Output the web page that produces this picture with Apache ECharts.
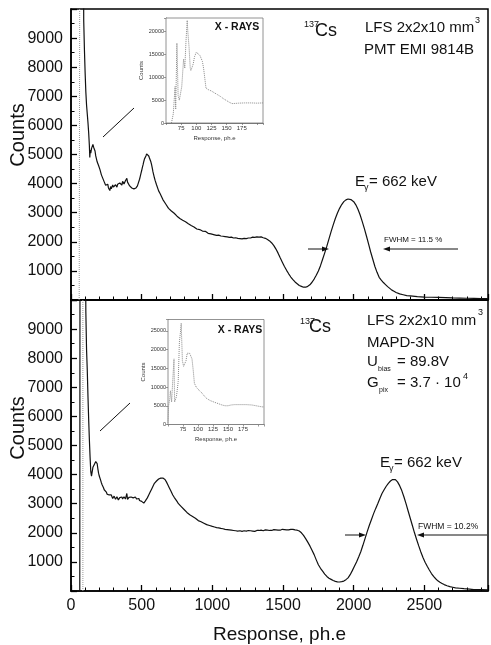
<!DOCTYPE html>
<html>
<head>
<meta charset="utf-8">
<script src="https://cdn.jsdelivr.net/npm/echarts@6/dist/echarts.min.js"></script>
<style>
html,body{margin:0;padding:0;background:#fff;}
#c{width:491px;height:645px;}
</style>
</head>
<body>
<div id="c"></div>
<script>
// ---- Data ----
// Top panel: PMT EMI 9814B spectrum [response ph.e, counts]
var pmtSpectrum = [[88,12000],[90,9600],[92,9200],[95,8600],[100,7800],[105,7150],[110,6700],[115,6400],[120,6100],[125,5750],[130,5300],[133,4900],[136,5150],[140,5050],[145,5200],[150,5150],[155,5350],[160,5250],[165,5300],[170,5120],[175,4950],[180,4920],[185,4750],[190,4800],[195,4620],[200,4560],[205,4480],[210,4450],[215,4300],[220,4250],[225,4180],[230,4150],[235,4060],[240,4050],[245,3940],[250,3980],[255,3900],[260,3980],[265,3850],[270,3880],[275,3760],[280,3900],[285,3820],[290,3800],[295,3950],[300,3880],[305,3820],[310,3900],[315,3960],[320,3900],[325,3880],[330,3980],[335,3920],[340,3950],[345,4020],[350,3960],[355,4000],[360,3950],[365,4080],[370,4050],[375,3990],[380,4020],[385,4100],[390,4060],[395,4180],[400,4050],[405,4000],[410,3990],[415,3920],[420,3950],[425,3860],[430,3850],[435,3900],[440,3800],[445,3820],[450,3790],[455,3840],[460,3850],[465,3890],[470,3920],[475,4000],[480,4060],[485,4150],[490,4250],[495,4350],[500,4450],[505,4560],[510,4650],[515,4760],[520,4850],[525,4900],[530,4950],[535,5020],[540,4990],[545,4960],[550,4950],[555,4880],[560,4850],[565,4750],[570,4650],[575,4530],[580,4400],[585,4300],[590,4200],[595,4110],[600,4050],[605,3960],[610,3900],[620,3750],[630,3660],[640,3560],[650,3450],[660,3420],[670,3300],[680,3260],[690,3150],[700,3120],[710,3060],[720,3000],[730,2980],[740,2920],[750,2880],[760,2860],[770,2800],[780,2780],[790,2740],[800,2700],[810,2690],[820,2650],[830,2620],[840,2600],[850,2560],[860,2520],[870,2510],[880,2480],[890,2440],[900,2430],[910,2420],[920,2400],[930,2370],[940,2350],[950,2360],[960,2330],[970,2290],[980,2290],[990,2270],[1000,2250],[1015,2240],[1030,2220],[1045,2230],[1060,2200],[1075,2190],[1090,2180],[1105,2170],[1120,2150],[1135,2160],[1150,2130],[1165,2140],[1180,2120],[1195,2110],[1210,2100],[1225,2120],[1240,2110],[1255,2130],[1270,2130],[1285,2160],[1300,2150],[1315,2170],[1330,2160],[1345,2170],[1360,2140],[1375,2120],[1390,2080],[1405,2030],[1420,1960],[1435,1870],[1450,1750],[1465,1610],[1480,1450],[1495,1300],[1510,1150],[1525,1020],[1540,900],[1555,790],[1570,700],[1585,620],[1600,560],[1615,500],[1630,470],[1645,440],[1660,440],[1675,470],[1690,520],[1705,610],[1720,720],[1735,850],[1750,1000],[1765,1180],[1780,1400],[1795,1620],[1810,1850],[1825,2100],[1840,2350],[1855,2580],[1870,2800],[1885,2990],[1900,3150],[1915,3280],[1930,3380],[1945,3440],[1960,3470],[1970,3480],[1980,3450],[1990,3420],[2000,3380],[2015,3270],[2030,3120],[2045,2930],[2060,2700],[2075,2460],[2090,2200],[2105,1930],[2120,1650],[2135,1400],[2150,1150],[2165,950],[2180,780],[2195,680],[2210,600],[2225,530],[2240,460],[2255,400],[2270,340],[2285,300],[2300,260],[2325,210],[2350,180],[2375,150],[2400,140],[2450,115],[2500,100],[2550,95],[2600,90],[2650,80],[2700,70],[2750,65],[2800,60],[2850,55],[2900,50],[2950,50]];
// Top panel: steep low-channel edge (grey dotted)
var pmtEdge = [[58,0],[62,12000]];

// Bottom panel: MAPD-3N spectrum [response ph.e, counts]
var mapdSpectrum = [[62,0],[64,14000],[100,14000],[105,9600],[110,8300],[115,7600],[120,6700],[125,5900],[130,5200],[135,4600],[140,4100],[145,3950],[150,3920],[155,4250],[160,4200],[165,4350],[170,4300],[175,4450],[180,4400],[185,4380],[190,4200],[195,4050],[200,3950],[205,3900],[210,3800],[215,3720],[220,3650],[225,3600],[230,3550],[235,3480],[240,3450],[245,3420],[250,3400],[255,3330],[260,3350],[265,3290],[270,3300],[275,3240],[280,3250],[285,3300],[290,3280],[295,3180],[300,3200],[305,3260],[310,3250],[315,3150],[320,3180],[325,3240],[330,3220],[335,3130],[340,3150],[345,3210],[350,3200],[355,3170],[360,3230],[365,3160],[370,3180],[375,3240],[380,3250],[385,3160],[390,3200],[395,3350],[400,3150],[405,3190],[410,3220],[415,3170],[420,3180],[425,3230],[430,3250],[435,3170],[440,3200],[445,3150],[450,3180],[455,3230],[460,3220],[465,3160],[470,3150],[475,3200],[480,3180],[485,3110],[490,3120],[495,3090],[500,3080],[505,3040],[510,3050],[515,3020],[520,3070],[525,3090],[530,3120],[535,3150],[540,3200],[545,3250],[550,3300],[555,3350],[560,3400],[565,3450],[570,3500],[575,3560],[580,3600],[585,3650],[590,3700],[595,3720],[600,3750],[605,3780],[610,3800],[615,3830],[620,3850],[625,3860],[630,3870],[635,3880],[640,3900],[645,3920],[650,3880],[655,3870],[660,3850],[665,3830],[670,3800],[675,3750],[680,3700],[685,3650],[690,3600],[695,3550],[700,3500],[705,3450],[710,3400],[720,3300],[730,3220],[740,3150],[750,3080],[760,3000],[770,2950],[780,2900],[790,2850],[800,2800],[810,2750],[820,2700],[830,2670],[840,2620],[850,2590],[860,2560],[870,2530],[880,2500],[890,2460],[900,2420],[910,2400],[920,2380],[930,2350],[940,2330],[950,2300],[960,2280],[970,2270],[980,2250],[990,2240],[1000,2220],[1015,2200],[1030,2180],[1045,2170],[1060,2150],[1075,2140],[1090,2120],[1105,2110],[1120,2100],[1135,2090],[1150,2080],[1165,2070],[1180,2060],[1195,2070],[1210,2050],[1225,2070],[1240,2060],[1255,2080],[1270,2070],[1285,2060],[1300,2050],[1315,2080],[1330,2080],[1345,2090],[1360,2070],[1375,2100],[1390,2090],[1405,2080],[1420,2080],[1435,2110],[1450,2100],[1465,2090],[1480,2090],[1495,2120],[1510,2110],[1525,2100],[1540,2100],[1555,2120],[1570,2120],[1585,2100],[1600,2090],[1615,2060],[1630,2000],[1645,1910],[1660,1800],[1675,1680],[1690,1550],[1705,1400],[1720,1250],[1735,1070],[1750,900],[1765,780],[1780,680],[1795,580],[1810,500],[1825,440],[1840,400],[1855,360],[1870,330],[1885,315],[1900,310],[1915,320],[1930,340],[1945,390],[1960,450],[1975,560],[1990,700],[2005,850],[2020,1000],[2035,1170],[2050,1350],[2065,1570],[2080,1800],[2095,2030],[2110,2250],[2125,2450],[2140,2650],[2155,2830],[2170,3000],[2185,3180],[2200,3350],[2215,3480],[2230,3600],[2245,3700],[2260,3780],[2275,3830],[2285,3850],[2295,3830],[2310,3750],[2325,3620],[2340,3450],[2355,3240],[2370,3000],[2385,2750],[2400,2500],[2415,2250],[2430,2000],[2445,1770],[2460,1550],[2475,1340],[2490,1150],[2505,990],[2520,850],[2535,720],[2550,600],[2565,500],[2580,420],[2595,350],[2610,300],[2625,260],[2640,220],[2660,180],[2680,150],[2700,130],[2720,110],[2750,95],[2780,80],[2820,65],[2850,50],[2900,45],[2950,40]];
// Bottom panel: grey dotted low-channel line
var mapdEdge = [[84,0],[84,12000]];

// Insets: X-ray region [response ph.e, counts]
var pmtXray = [[59,0],[62,2000],[63,4000],[65,8000],[66,3000],[68,17500],[70,6000],[72,5000],[74,6500],[76,8000],[78,12000],[79,14000],[81,12000],[83,18000],[85,22500],[86,20000],[88,16700],[90,12000],[91,11500],[93,12200],[95,13000],[97,14500],[100,15500],[103,15200],[106,14800],[110,13500],[112,12000],[114,9800],[116,7600],[120,7300],[125,7000],[130,6600],[135,6200],[140,5800],[145,5300],[150,4900],[155,4500],[159,4250],[165,4300],[170,4350],[180,4400],[190,4400],[200,4350],[210,4400]];
var mapdXray = [[50,500],[51,5000],[53,7000],[54,9000],[56,6000],[58,12000],[60,17500],[61,6000],[63,6500],[64,7400],[66,10000],[67,11500],[69,22000],[71,25000],[72,27000],[73,22000],[74,17000],[76,15500],[78,15000],[80,17000],[82,19000],[84,19200],[86,19000],[88,18500],[90,17500],[92,14500],[94,11000],[97,10000],[100,9400],[103,9000],[106,8500],[110,7700],[114,7000],[120,6400],[128,5900],[135,5500],[140,5200],[145,5000],[150,5000],[155,5200],[161,5300],[170,5300],[180,5300],[190,5200],[200,4900],[207,4700],[210,4700]];

// Axis settings
var mainXMin = 0, mainXMax = 2950, mainXStep = 500;
var mainYMin = 0, mainYMax = 10000, mainYStep = 1000;
var insetXMin = 50, insetXMax = 210, insetXStep = 25;
var insetYStep = 5000, pmtInsetYMax = 23000, mapdInsetYMax = 28000;

// ---- Chart ----
var FONT = '"Liberation Sans", Arial, sans-serif';
var chart = echarts.init(document.getElementById('c'), null, {renderer: 'canvas'});

function mainX(gi, showLabels) {
  return {
    gridIndex: gi, type: 'value', min: mainXMin, max: mainXMax, interval: mainXStep,
    axisLine: {show: true, lineStyle: {color: '#000', width: 1.5}},
    axisTick: {show: true, inside: true, length: 6, lineStyle: {color: '#000', width: 1.3}},
    minorTick: {show: true, splitNumber: 5, length: 3.5, lineStyle: {color: '#000', width: 1}},
    splitLine: {show: false}, minorSplitLine: {show: false},
    axisLabel: {show: showLabels, fontSize: 16, color: '#111', fontFamily: FONT, margin: 7,
      showMinLabel: true, showMaxLabel: false,
      formatter: function (v) { return v > 2500 ? '' : String(v); }},
    name: showLabels ? 'Response, ph.e' : '', nameLocation: 'middle', nameGap: 34,
    nameTextStyle: {fontSize: 19, color: '#111', fontFamily: FONT}
  };
}
function mainY(gi) {
  return {
    gridIndex: gi, type: 'value', min: mainYMin, max: mainYMax, interval: mainYStep,
    axisLine: {show: true, lineStyle: {color: '#000', width: 1.5}},
    axisTick: {show: true, inside: true, length: 6, lineStyle: {color: '#000', width: 1.3}},
    minorTick: {show: true, splitNumber: 2, length: 3.5, lineStyle: {color: '#000', width: 1}},
    splitLine: {show: false},
    axisLabel: {fontSize: 16, color: '#111', fontFamily: FONT, margin: 8,
      formatter: function (v) { return (v <= 0 || v >= 10000) ? '' : String(v); }}
  };
}
function insetX(gi) {
  return {
    gridIndex: gi, type: 'value', min: insetXMin, max: insetXMax, interval: insetXStep,
    axisLine: {show: true, lineStyle: {color: '#555', width: 0.8}},
    axisTick: {show: true, length: 2, lineStyle: {color: '#555', width: 0.6}},
    splitLine: {show: false},
    axisLabel: {fontSize: 6, color: '#333', fontFamily: FONT, margin: 2,
      formatter: function (v) { return (v >= 75 && v <= 175) ? String(v) : ''; }},
    name: 'Response, ph.e', nameLocation: 'middle', nameGap: 12,
    nameTextStyle: {fontSize: 6, color: '#333', fontFamily: FONT}
  };
}
function insetY(gi, maxV, maxLab) {
  return {
    gridIndex: gi, type: 'value', min: 0, max: maxV, interval: insetYStep,
    axisLine: {show: true, lineStyle: {color: '#555', width: 0.8}},
    axisTick: {show: true, length: 2, lineStyle: {color: '#555', width: 0.6}},
    splitLine: {show: false},
    axisLabel: {fontSize: 5.5, color: '#333', fontFamily: FONT, margin: 2,
      formatter: function (v) { return v > maxLab ? '' : String(v); }},
    name: 'Counts', nameLocation: 'middle', nameGap: 19, nameRotate: 90,
    nameTextStyle: {fontSize: 6, color: '#333', fontFamily: FONT}
  };
}

var T = function (x, y, text, size, opts) {
  opts = opts || {};
  return {type: 'text', x: x, y: y, z: 100, silent: true,
    style: {text: text, fill: opts.fill || '#111', font: (opts.weight || 'normal') + ' ' + size + 'px ' + FONT,
      align: opts.align || 'left', verticalAlign: opts.va || 'middle'}};
};
var L = function (x1, y1, x2, y2, w) {
  return {type: 'line', z: 100, silent: true, shape: {x1: x1, y1: y1, x2: x2, y2: y2},
    style: {stroke: '#111', lineWidth: w || 1}};
};
var P = function (pts) {
  return {type: 'polygon', z: 100, silent: true, shape: {points: pts}, style: {fill: '#111'}};
};

var graphics = [
  // Counts axis titles
  {type: 'text', x: 18, y: 135, rotation: Math.PI / 2, z: 100, silent: true,
    style: {text: 'Counts', font: '20px ' + FONT, fill: '#111', align: 'center', verticalAlign: 'middle'}},
  {type: 'text', x: 18, y: 428, rotation: Math.PI / 2, z: 100, silent: true,
    style: {text: 'Counts', font: '20px ' + FONT, fill: '#111', align: 'center', verticalAlign: 'middle'}},

  // Top panel texts
  T(304, 25, '137', 9),
  T(315, 31, 'Cs', 18),
  T(365, 28, 'LFS 2x2x10 mm', 15),
  T(475, 21, '3', 9),
  T(364, 50, 'PMT EMI 9814B', 15),
  T(355, 182, 'E', 15),
  T(364, 188, '\u03b3', 9),
  T(369, 182, '= 662 keV', 15),
  T(384, 240, 'FWHM = 11.5 %', 8),
  L(308, 249, 324, 249), P([[329, 249], [322, 246.5], [322, 251.5]]),
  L(458, 249, 388, 249), P([[383, 249], [390, 246.5], [390, 251.5]]),
  L(103, 137, 134, 108),
  T(237, 27, 'X - RAYS', 10.5, {weight: 'bold', align: 'center'}),

  // Bottom panel texts
  T(300, 322, '137', 9),
  T(309, 327, 'Cs', 18),
  T(367, 321, 'LFS 2x2x10 mm', 15),
  T(478, 313, '3', 9),
  T(367, 343, 'MAPD-3N', 15),
  T(367, 362, 'U', 15),
  T(378, 369, 'bias', 7),
  T(397, 362, '= 89.8V', 15),
  T(367, 383, 'G', 15),
  T(379, 390, 'pix', 7),
  T(397, 383, '= 3.7 \u00b7 10', 15),
  T(463, 377, '4', 9),
  T(380, 463, 'E', 15),
  T(389, 469, '\u03b3', 9),
  T(394, 463, '= 662 keV', 15),
  T(418, 527, 'FWHM = 10.2%', 8.5),
  L(345, 535, 361, 535), P([[366, 535], [359, 532.5], [359, 537.5]]),
  L(487, 535, 422, 535), P([[417, 535], [424, 532.5], [424, 537.5]]),
  L(100, 431, 130, 403),
  T(240, 330, 'X - RAYS', 10.5, {weight: 'bold', align: 'center'})
];

var option = {
  backgroundColor: '#fff',
  animation: false,
  textStyle: {fontFamily: FONT},
  grid: [
    {left: 71, top: 9, width: 417, height: 291, show: true, borderColor: '#000', borderWidth: 1.5, backgroundColor: 'transparent'},
    {left: 71, top: 300, width: 417, height: 291, show: true, borderColor: '#000', borderWidth: 1.5, backgroundColor: 'transparent'},
    {left: 166, top: 18, width: 97, height: 105, show: true, borderColor: '#777', borderWidth: 0.8, backgroundColor: '#fff', z: 5},
    {left: 168, top: 319.5, width: 96, height: 105, show: true, borderColor: '#777', borderWidth: 0.8, backgroundColor: '#fff', z: 5}
  ],
  xAxis: [mainX(0, false), mainX(1, true), insetX(2), insetX(3)],
  yAxis: [mainY(0), mainY(1), insetY(2, pmtInsetYMax, 20000), insetY(3, mapdInsetYMax, 25000)],
  series: [
    {type: 'line', xAxisIndex: 0, yAxisIndex: 0, data: pmtEdge, symbol: 'none', clip: true,
      lineStyle: {color: '#999', width: 1, type: 'dotted'}},
    {type: 'line', xAxisIndex: 0, yAxisIndex: 0, data: pmtSpectrum, symbol: 'none', clip: true,
      lineStyle: {color: '#111', width: 1.2}},
    {type: 'line', xAxisIndex: 1, yAxisIndex: 1, data: mapdEdge, symbol: 'none', clip: true,
      lineStyle: {color: '#999', width: 1, type: 'dotted'}},
    {type: 'line', xAxisIndex: 1, yAxisIndex: 1, data: mapdSpectrum, symbol: 'none', clip: true,
      lineStyle: {color: '#111', width: 1.2}},
    {type: 'line', xAxisIndex: 2, yAxisIndex: 2, data: pmtXray, symbol: 'none', clip: true, z: 6,
      lineStyle: {color: '#888', width: 1, type: 'dotted'}},
    {type: 'line', xAxisIndex: 3, yAxisIndex: 3, data: mapdXray, symbol: 'none', clip: true, z: 6,
      lineStyle: {color: '#888', width: 1, type: 'dotted'}}
  ],
  graphic: graphics
};
chart.setOption(option);
</script>
</body>
</html>
